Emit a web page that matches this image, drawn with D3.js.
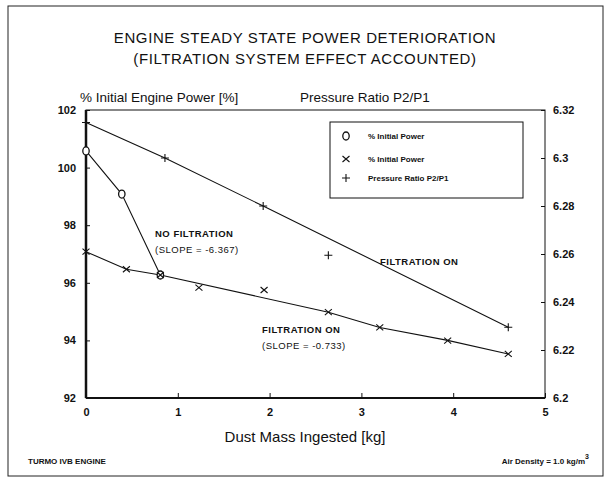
<!DOCTYPE html>
<html>
<head>
<meta charset="utf-8">
<style>
  body { margin: 0; background: #fff; }
  text { font-family: "Liberation Sans", Arial, sans-serif; fill: #111; }
</style>
</head>
<body>
<div id="chart"></div>
<script src="https://d3js.org/d3.v7.min.js"></script>
<script>
// data
var noFiltX = [0, 0.39, 0.81];
var noFiltY = [100.58, 99.08, 96.27];

var filtOnX = [0, 0.44, 0.81, 1.23, 1.94, 2.64, 3.2, 3.94, 4.6];
var filtOnY = [97.08, 96.47, 96.27, 95.83, 95.75, 94.98, 94.45, 93.99, 93.53];
// drawn trend through the x marks
var filtOnLineX = [0, 0.44, 0.81, 2.64, 3.2, 3.94, 4.6];
var filtOnLineY = [97.08, 96.47, 96.27, 94.98, 94.45, 94.0, 93.53];

var pressX = [0, 0.86, 1.93, 2.64, 4.6];
var pressY = [6.3148, 6.300, 6.280, 6.2595, 6.2295];
var pressLineX = [0, 0.86, 1.93, 4.6];
var pressLineY = [6.3148, 6.300, 6.280, 6.2295];

var xTicks = [0, 1, 2, 3, 4, 5];
var leftTicks = [92, 94, 96, 98, 100, 102];
var rightTicks = [6.2, 6.22, 6.24, 6.26, 6.28, 6.3, 6.32];
var rightTickLabels = ["6.2", "6.22", "6.24", "6.26", "6.28", "6.3", "6.32"];

var legendLabels = ["% Initial Power", "% Initial Power", "Pressure Ratio P2/P1"];

var w = 611, h = 483;
var pL = 86, pR = 545, pT = 110, pB = 398;

var svg = d3.select("#chart").append("svg")
    .attr("width", w)
    .attr("height", h);

// outer frame
svg.append("rect")
    .attr("x", 8).attr("y", 6)
    .attr("width", 595).attr("height", 470)
    .attr("fill", "none")
    .attr("stroke", "#222")
    .attr("stroke-width", 1);

var x = d3.scaleLinear().domain([0, 5]).range([pL, pR]);
var yL = d3.scaleLinear().domain([92, 102]).range([pB, pT]);
var yR = d3.scaleLinear().domain([6.2, 6.32]).range([pB, pT]);

// titles
svg.append("text").attr("x", 305).attr("y", 43)
    .attr("text-anchor", "middle").style("font-size", "15px").style("letter-spacing", "0.6px")
    .text("ENGINE STEADY STATE POWER DETERIORATION");
svg.append("text").attr("x", 305).attr("y", 64)
    .attr("text-anchor", "middle").style("font-size", "15px").style("letter-spacing", "0.6px")
    .text("(FILTRATION SYSTEM EFFECT ACCOUNTED)");

svg.append("text").attr("x", 80).attr("y", 102)
    .style("font-size", "13.5px")
    .text("% Initial Engine Power [%]");
svg.append("text").attr("x", 300).attr("y", 102)
    .style("font-size", "13.5px")
    .text("Pressure Ratio P2/P1");

// plot box
svg.append("rect")
    .attr("x", pL).attr("y", pT)
    .attr("width", pR - pL).attr("height", pB - pT)
    .attr("fill", "none").attr("stroke", "#111").attr("stroke-width", 1);
svg.append("line").attr("x1", pL).attr("x2", pL).attr("y1", pT).attr("y2", pB)
    .attr("stroke", "#111").attr("stroke-width", 2.5);
svg.append("line").attr("x1", pL).attr("x2", pR).attr("y1", pB).attr("y2", pB)
    .attr("stroke", "#111").attr("stroke-width", 2);

// axes
var xAxis = d3.axisBottom(x).tickValues(xTicks).tickSize(-5).tickPadding(10).tickFormat(d3.format("d"));
var gx = svg.append("g").attr("transform", "translate(0," + pB + ")").call(xAxis);

var lAxis = d3.axisLeft(yL).tickValues(leftTicks).tickSize(-4).tickPadding(10).tickFormat(d3.format("d"));
var gl = svg.append("g").attr("transform", "translate(" + pL + ",0)").call(lAxis);

var rAxis = d3.axisRight(yR).tickValues(rightTicks).tickSize(-4).tickPadding(8)
    .tickFormat(function (d, i) { return rightTickLabels[i]; });
var gr = svg.append("g").attr("transform", "translate(" + pR + ",0)").call(rAxis);

[gx, gl, gr].forEach(function (g) {
    g.select(".domain").remove();
    g.selectAll(".tick line").attr("stroke", "#111");
    g.selectAll(".tick text")
        .style("font-family", "'Liberation Sans', Arial, sans-serif")
        .style("font-size", "11px").style("font-weight", "bold").attr("fill", "#111");
});

svg.append("text").attr("x", 305).attr("y", 442)
    .attr("text-anchor", "middle").style("font-size", "15px")
    .text("Dust Mass Ingested [kg]");

// lines
var line = function (xs, ys, yScale) {
    return d3.line()
        .x(function (d) { return x(d[0]); })
        .y(function (d) { return yScale(d[1]); })(d3.zip(xs, ys));
};
svg.append("path").attr("d", line(pressLineX, pressLineY, yR))
    .attr("fill", "none").attr("stroke", "#111").attr("stroke-width", 1.1);
svg.append("path").attr("d", line(noFiltX, noFiltY, yL))
    .attr("fill", "none").attr("stroke", "#111").attr("stroke-width", 1.1);
svg.append("path").attr("d", line(filtOnLineX, filtOnLineY, yL))
    .attr("fill", "none").attr("stroke", "#111").attr("stroke-width", 1.1);

// markers
function cross(g, cx, cy) {
    g.append("path").attr("d", "M" + (cx - 3.5) + "," + (cy - 3) + "L" + (cx + 3.5) + "," + (cy + 3) +
        "M" + (cx - 3.5) + "," + (cy + 3) + "L" + (cx + 3.5) + "," + (cy - 3))
        .attr("stroke", "#111").attr("stroke-width", 1.1).attr("fill", "none");
}
function plus(g, cx, cy) {
    g.append("path").attr("d", "M" + (cx - 4) + "," + cy + "L" + (cx + 4) + "," + cy +
        "M" + cx + "," + (cy - 4) + "L" + cx + "," + (cy + 4))
        .attr("stroke", "#111").attr("stroke-width", 1.1).attr("fill", "none");
}
var mk = svg.append("g");
d3.zip(noFiltX, noFiltY).forEach(function (d) {
    mk.append("ellipse").attr("cx", x(d[0])).attr("cy", yL(d[1]))
        .attr("rx", 3.2).attr("ry", 4).attr("fill", "#fff").attr("stroke", "#111").attr("stroke-width", 1.3);
});
d3.zip(filtOnX, filtOnY).forEach(function (d) { cross(mk, x(d[0]), yL(d[1])); });
d3.zip(pressX, pressY).forEach(function (d) { plus(mk, x(d[0]), yR(d[1])); });

// annotations
var ann = [
    ["NO FILTRATION", 155, 237, true],
    ["(SLOPE = -6.367)", 155, 253, false],
    ["FILTRATION ON", 380, 265, true],
    ["FILTRATION ON", 262, 333, true],
    ["(SLOPE = -0.733)", 262, 349, false]
];
ann.forEach(function (a) {
    svg.append("text").attr("x", a[1]).attr("y", a[2])
        .style("font-size", "9.5px").style("font-weight", a[3] ? "bold" : "normal")
        .style("letter-spacing", "0.5px")
        .text(a[0]);
});

// legend
var lg = svg.append("g");
lg.append("rect").attr("x", 330).attr("y", 122).attr("width", 193).attr("height", 76)
    .attr("fill", "#fff").attr("stroke", "#111").attr("stroke-width", 1);
var legY = [136, 159, 178];
legendLabels.forEach(function (t, i) {
    var cy = legY[i];
    if (i === 0) {
        lg.append("ellipse").attr("cx", 346).attr("cy", cy).attr("rx", 3.2).attr("ry", 4)
            .attr("fill", "none").attr("stroke", "#111").attr("stroke-width", 1.3);
    } else if (i === 1) {
        cross(lg, 346, cy);
    } else {
        plus(lg, 346, cy);
    }
    lg.append("text").attr("x", 368).attr("y", cy + 3)
        .style("font-size", "8px").style("font-weight", "bold")
        .text(t);
});

// footer
svg.append("text").attr("x", 28).attr("y", 464)
    .style("font-size", "8px").style("font-weight", "bold")
    .text("TURMO IVB ENGINE");
var ft = svg.append("text").attr("x", 589).attr("y", 464).attr("text-anchor", "end")
    .style("font-size", "8px").style("font-weight", "bold");
ft.append("tspan").text("Air Density = 1.0 kg/m");
ft.append("tspan").attr("dy", -5).style("font-size", "7px").text("3");
</script>
</body>
</html>
